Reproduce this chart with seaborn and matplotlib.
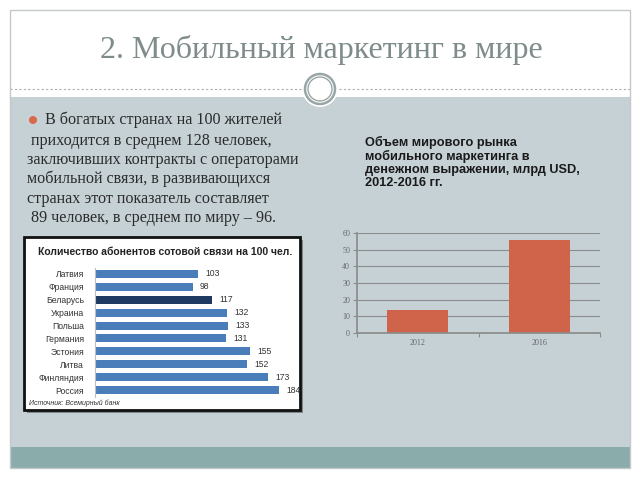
import matplotlib
matplotlib.use("Agg")
import matplotlib.pyplot as plt
import seaborn as sns
import pandas as pd
from matplotlib.patches import Rectangle, Ellipse
from matplotlib.lines import Line2D

# ---------------- data ----------------
countries = ["Латвия", "Франция", "Беларусь", "Украина", "Польша",
             "Германия", "Эстония", "Литва", "Финляндия", "Россия"]
subscribers = [103, 98, 117, 132, 133, 131, 155, 152, 173, 184]
highlight = "Беларусь"

years = ["2012", "2016"]
market = [14, 56]
market_yticks = [0, 10, 20, 30, 40, 50, 60]

slide_title = "2. Мобильный маркетинг в мире"
bullet_lines = [
    "В богатых странах на 100 жителей",
    " приходится в среднем 128 человек,",
    "заключивших контракты с операторами",
    "мобильной связи, в развивающихся",
    "странах этот показатель составляет",
    " 89 человек, в среднем по миру – 96.",
]
left_title = "Количество абонентов сотовой связи на 100 чел."
left_source = "Источник: Всемирный банк"
right_title = ("Объем мирового рынка\nмобильного маркетинга в\n"
               "денежном выражении, млрд USD,\n2012-2016 гг.")

sns.set_theme(style="white")
plt.rcParams["font.family"] = ["Liberation Sans", "DejaVu Sans"]

W, H = 640, 480
fig = plt.figure(figsize=(6.4, 4.8), dpi=100)
fig.patch.set_facecolor("white")

def fx(x):
    return x / W

def fy(y):
    return 1 - y / H

def frect(x0, y0, x1, y1, **kw):
    r = Rectangle((fx(x0), fy(y1)), fx(x1 - x0), (y1 - y0) / H,
                  transform=fig.transFigure, **kw)
    fig.patches.append(r)
    return r

# slide background
frect(10, 10, 630, 97, facecolor="white", edgecolor="none", zorder=0)
frect(10, 97, 630, 447, facecolor="#c6d1d6", edgecolor="none", zorder=0)
frect(10, 447, 630, 468, facecolor="#8aacab", edgecolor="none", zorder=0)
frect(10, 10, 630, 468, facecolor="none", edgecolor="#c4c8c8", lw=1, zorder=1)
fig.lines.append(Line2D([fx(10), fx(630)], [fy(89), fy(89)], transform=fig.transFigure,
                        color="#a6b0b0", lw=0.8, ls=(0, (2, 2)), zorder=1))
# circle ornament
for r, fc, ec, lw in [(18, "white", "none", 0), (15, "none", "#9aa6a6", 1.8), (12, "none", "#9aa6a6", 1.0)]:
    e = Ellipse((fx(320), fy(89)), 2 * r / W, 2 * r / H, transform=fig.transFigure,
                facecolor=fc, edgecolor=ec, lw=lw, zorder=2)
    fig.patches.append(e)

# slide title
fig.text(fx(321), fy(50), slide_title, ha="center", va="center", fontsize=23,
         family=["Liberation Serif", "DejaVu Serif"], color="#7f8c8b")

# bullet text
fig.patches.append(Ellipse((fx(33), fy(120)), 8 / W, 8 / H, transform=fig.transFigure,
                           facecolor="#d9694a", edgecolor="none", zorder=3))
line_y = [120, 141, 160, 179, 199, 218]
line_x = [45, 27, 27, 27, 27, 27]
for txt, x, y in zip(bullet_lines, line_x, line_y):
    fig.text(fx(x), fy(y), txt, ha="left", va="center", fontsize=11.6,
             family=["Liberation Serif", "DejaVu Serif"], color="#2b2b2b")

# ---------------- left chart ----------------
frect(27, 240, 303, 413, facecolor="#555555", edgecolor="none", zorder=1, alpha=0.6)
frect(24, 237, 300, 410, facecolor="white", edgecolor="#111111", lw=2, zorder=2)
fig.text(fx(38), fy(252), left_title, ha="left", va="center", fontsize=7.5,
         fontweight="bold", color="#222222", zorder=5)
fig.text(fx(29), fy(403), left_source, ha="left", va="center", fontsize=5,
         style="italic", color="#333333", zorder=5)

df_left = pd.DataFrame({"country": countries, "value": subscribers})
colors = ["#1f3a60" if c == highlight else "#4a7ebb" for c in countries]
ax1 = fig.add_axes([fx(95), fy(396.5), fx(207), 129 / H])
ax1.set_zorder(5)
sns.barplot(data=df_left, x="value", y="country", hue="country", palette=colors,
            legend=False, width=0.62, ax=ax1, saturation=1, linewidth=0)
ax1.set_xlim(0, 207)
ax1.set_facecolor("none")
for s in ["top", "right", "bottom"]:
    ax1.spines[s].set_visible(False)
ax1.spines["left"].set_color("#bfbfbf")
ax1.spines["left"].set_linewidth(0.8)
ax1.set_xticks([])
ax1.set_xlabel("")
ax1.set_ylabel("")
ax1.tick_params(axis="y", length=0, pad=8, labelsize=6.2, labelcolor="#333333")
for i, v in enumerate(subscribers):
    ax1.text(v + 7, i, str(v), va="center", ha="left", fontsize=6.2, color="#333333")

# ---------------- right chart ----------------
fig.text(fx(365), fy(136), right_title, ha="left", va="top", fontsize=9.2,
         fontweight="bold", color="#1a1a1a", linespacing=1.12)

df_right = pd.DataFrame({"year": years, "value": market})
ax2 = fig.add_axes([fx(357), fy(333), fx(243), 100 / H])
ax2.set_zorder(5)
sns.barplot(data=df_right, x="year", y="value", color="#d0644a", width=0.5,
            saturation=1, linewidth=0, ax=ax2)
ax2.set_facecolor("none")
ax2.set_xlim(-0.5, 1.5)
ax2.set_ylim(0, 60)
ax2.set_yticks(market_yticks)
ax2.set_xticks([-0.5, 0.5, 1.5], minor=True)
ax2.set_axisbelow(True)
ax2.yaxis.grid(True, color="#8c8c8c", lw=0.8)
for s in ["top", "right"]:
    ax2.spines[s].set_visible(False)
ax2.spines["left"].set_color("#8c8c8c")
ax2.spines["bottom"].set_color("#8c8c8c")
ax2.set_xlabel("")
ax2.set_ylabel("")
ax2.tick_params(axis="y", length=3, color="#8c8c8c", width=0.8, pad=2,
                labelsize=5.8, labelcolor="#666666", left=True)
ax2.tick_params(axis="x", which="major", length=0, pad=4, labelsize=5.8, labelcolor="#666666")
ax2.tick_params(axis="x", which="minor", length=3, color="#8c8c8c", width=0.8, bottom=True)
for lbl in ax2.get_yticklabels() + ax2.get_xticklabels():
    lbl.set_family(["Liberation Serif", "DejaVu Serif"])

fig.savefig("out.png", dpi=100, facecolor="white")
